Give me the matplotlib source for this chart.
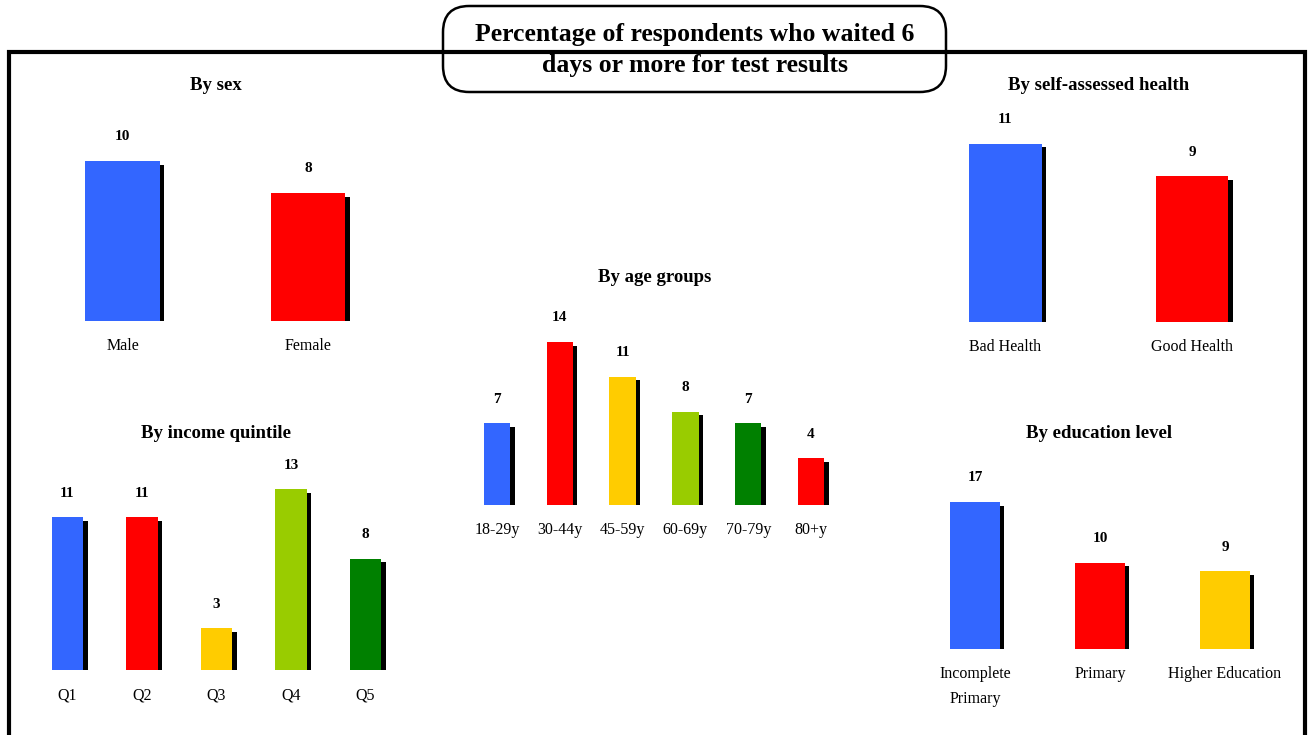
import matplotlib
matplotlib.use("Agg")
import matplotlib.pyplot as plt
import matplotlib.patheffects as pe
from matplotlib.lines import Line2D
from matplotlib.patches import FancyBboxPatch

W, H = 1309, 735

TITLE = "Percentage of respondents who waited 6\ndays or more for test results"

SEX_LABELS = ["Male", "Female"]
SEX_VALUES = [10, 8]
SEX_COLORS = ["#3366FF", "#FF0000"]

HEALTH_LABELS = ["Bad Health", "Good Health"]
HEALTH_VALUES = [11, 9]
HEALTH_COLORS = ["#3366FF", "#FF0000"]

AGE_LABELS = ["18-29y", "30-44y", "45-59y", "60-69y", "70-79y", "80+y"]
AGE_VALUES = [7, 14, 11, 8, 7, 4]
AGE_COLORS = ["#3366FF", "#FF0000", "#FFCC00", "#99CC00", "#008000", "#FF0000"]

INCOME_LABELS = ["Q1", "Q2", "Q3", "Q4", "Q5"]
INCOME_VALUES = [11, 11, 3, 13, 8]
INCOME_COLORS = ["#3366FF", "#FF0000", "#FFCC00", "#99CC00", "#008000"]

EDU_LABELS = ["Incomplete\nPrimary", "Primary", "Higher Education"]
EDU_VALUES = [17, 10, 9]
EDU_COLORS = ["#3366FF", "#FF0000", "#FFCC00"]

plt.rcParams["font.family"] = ["Liberation Serif", "DejaVu Serif"]

fig = plt.figure(figsize=(W / 100, H / 100), dpi=100)


def fx(px):
    return px / W


def fy(py):
    return 1 - py / H


def panel(title, title_xy, labels, values, colors, first_center, spacing,
          baseline, px_per_unit, width=0.4):
    n = len(values)
    left = first_center - spacing / 2
    height_px = 200
    ax = fig.add_axes([fx(left), fy(baseline), n * spacing / W, height_px / H])
    x = list(range(n))
    shadow = [pe.SimplePatchShadow(offset=(3.2, -2.6), shadow_rgbFace="black", alpha=1),
              pe.Normal()]
    bars = ax.bar(x, values, color=colors, width=width, linewidth=0)
    for b in bars:
        b.set_path_effects(shadow)
    ax.set_xlim(-0.5, n - 0.5)
    ax.set_ylim(0, height_px / px_per_unit)
    ax.axis("off")
    for i, (v, lab) in enumerate(zip(values, labels)):
        ax.annotate(str(v), (i, v), xytext=(0, 24), textcoords="offset pixels",
                    ha="center", va="center", fontsize=11, fontweight="bold",
                    annotation_clip=False)
        ax.annotate(lab, (i, 0), xytext=(0, -17), textcoords="offset pixels",
                    ha="center", va="top", fontsize=11.5, linespacing=1.75,
                    annotation_clip=False)
    fig.text(fx(title_xy[0]), fy(title_xy[1]), title, ha="center", va="center",
             fontsize=13.5, fontweight="bold")


panel("By sex", (216, 86), SEX_LABELS, SEX_VALUES, SEX_COLORS,
      122.5, 185.5, 321, 16.0, width=0.40)
panel("By self-assessed health", (1099, 86), HEALTH_LABELS, HEALTH_VALUES,
      HEALTH_COLORS, 1005.5, 186.5, 322, 16.2, width=0.39)
panel("By age groups", (655, 278), AGE_LABELS, AGE_VALUES, AGE_COLORS,
      497, 62.8, 505, 11.65, width=0.42)
panel("By income quintile", (216, 433), INCOME_LABELS, INCOME_VALUES,
      INCOME_COLORS, 67.5, 74.5, 670, 13.9, width=0.42)
panel("By education level", (1099, 433), EDU_LABELS, EDU_VALUES, EDU_COLORS,
      975, 125, 649, 8.65, width=0.40)

# outer frame
fig.add_artist(Line2D([fx(9), fx(9), fx(1305), fx(1305)],
                      [fy(740), fy(52), fy(52), fy(740)],
                      color="black", linewidth=3, transform=fig.transFigure,
                      solid_joinstyle="miter"))

# title box
box = FancyBboxPatch((fx(443), fy(92)), fx(946) - fx(443), fy(6) - fy(92),
                     boxstyle="round,pad=0,rounding_size=0.02",
                     transform=fig.transFigure, facecolor="white",
                     edgecolor="black", linewidth=1.8, mutation_aspect=W / H)
fig.add_artist(box)
fig.text(fx(695), fy(50), TITLE, ha="center", va="center", fontsize=18.5,
         fontweight="bold", linespacing=1.4)

fig.savefig("out.png", dpi=100)
